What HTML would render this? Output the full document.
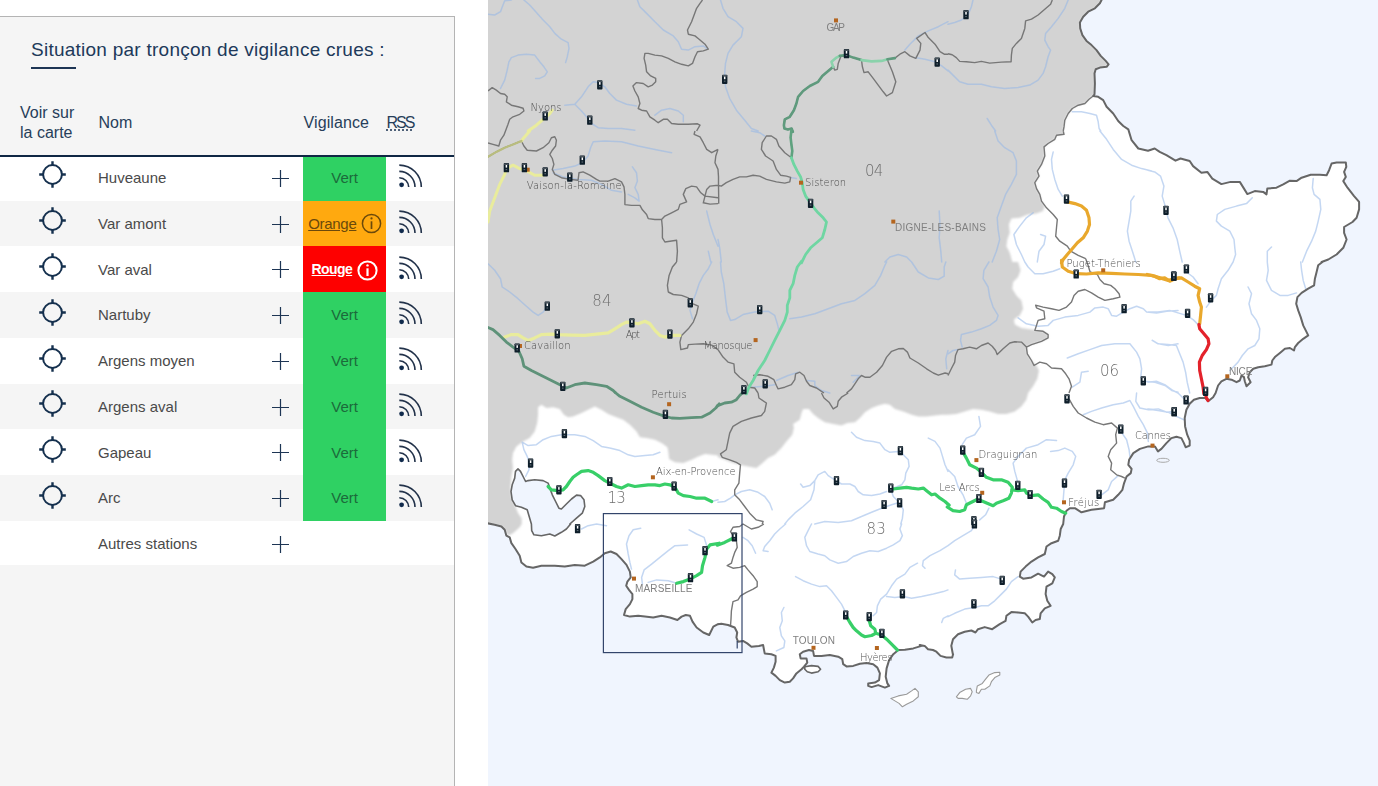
<!DOCTYPE html>
<html lang="fr">
<head>
<meta charset="utf-8">
<title>Vigicrues - Situation par tronçon</title>
<style>
html,body{margin:0;padding:0;background:#fff;}
body{width:1378px;height:786px;overflow:hidden;position:relative;font-family:"Liberation Sans",sans-serif;}
#panel{position:absolute;left:0;top:16px;width:454px;height:770px;background:#f5f5f5;border-top:1px solid #b4b4b4;border-right:1px solid #b4b4b4;box-sizing:content-box;}
#title{position:absolute;left:31px;top:22px;font-size:19px;line-height:22px;letter-spacing:.25px;color:#20395a;white-space:nowrap;margin:0;font-weight:normal;}
#tbar{position:absolute;left:31px;top:50px;width:45px;height:2px;background:#1d3554;}
.th{position:absolute;font-size:16px;line-height:20px;color:#273e5a;white-space:nowrap;}
#hline{position:absolute;left:0;top:138px;width:454px;height:2px;background:#0f2744;z-index:3;}
.row{position:absolute;left:0;width:454px;height:45.76px;}
.row.w{background:#fff;}
.nm{position:absolute;left:98px;top:14.15px;font-size:15px;line-height:17px;color:#4a4a4a;white-space:nowrap;}
.tg{position:absolute;left:38.5px;top:6.65px;width:27px;height:27px;}
.pl{position:absolute;left:272px;top:14.95px;width:17px;height:17px;}
.rs{position:absolute;left:396px;top:8.15px;width:28px;height:27px;}
.vg{position:absolute;left:303px;top:0;width:83px;height:100%;font-size:15px;line-height:17px;white-space:nowrap;}
.vg span.t{position:absolute;top:14.15px;}
.vert{background:#2fd163;color:#1c6a3b;}
.oran{background:#ffa90f;color:#6b490b;}
.roug{background:#fe0000;color:#fff;}
.inf{position:absolute;width:21px;height:21px;}
#map{position:absolute;left:488px;top:0;width:890px;height:786px;}
</style>
</head>
<body>
<div id="panel">
  <h2 id="title">Situation par tronçon de vigilance crues :</h2>
  <div id="tbar"></div>
  <div class="th" style="left:20px;top:86px;">Voir sur<br>la carte</div>
  <div class="th" style="left:98.5px;top:96.2px;">Nom</div>
  <div class="th" style="left:303.5px;top:96.2px;letter-spacing:.1px;">Vigilance</div>
  <div class="th" style="left:386.5px;top:96.2px;letter-spacing:-2px;text-decoration:underline dotted;text-underline-offset:2px;">RSS</div>
  <div id="hline"></div>
  <div class="row w" style="top:137.85px;height:45.76px"><svg class="tg" viewBox="0 0 27 27"><circle cx="13.5" cy="13.5" r="9.4" fill="none" stroke="#15304e" stroke-width="2"/><path d="M13.5 0.2V4.6M13.5 22.4V26.8M0.2 13.5H4.6M22.4 13.5H26.8" stroke="#15304e" stroke-width="2.4" fill="none"/></svg><span class="nm">Huveaune</span><svg class="pl" viewBox="0 0 17 17"><path d="M8.5 0V17M0 8.5H17" stroke="#1d3554" stroke-width="1.2" fill="none"/></svg><div class="vg vert"><span class="t" style="left:28.3px">Vert</span></div><svg class="rs" viewBox="0 0 28 27"><circle cx="5.6" cy="21.8" r="2.4" fill="#102a4c"/><path d="M3.3 14.7A9.4 9.4 0 0 1 12.7 24.1M3.3 8.4A15.7 15.7 0 0 1 19 24.1M3.3 2.1A22 22 0 0 1 25.3 24.1" fill="none" stroke="#22324a" stroke-width="1.6"/></svg></div>
  <div class="row" style="top:183.61px;height:45.76px"><svg class="tg" viewBox="0 0 27 27"><circle cx="13.5" cy="13.5" r="9.4" fill="none" stroke="#15304e" stroke-width="2"/><path d="M13.5 0.2V4.6M13.5 22.4V26.8M0.2 13.5H4.6M22.4 13.5H26.8" stroke="#15304e" stroke-width="2.4" fill="none"/></svg><span class="nm">Var amont</span><svg class="pl" viewBox="0 0 17 17"><path d="M8.5 0V17M0 8.5H17" stroke="#1d3554" stroke-width="1.2" fill="none"/></svg><div class="vg oran"><span class="t" style="left:5.2px;text-decoration:underline;letter-spacing:-.3px">Orange</span><svg class="inf" style="left:57.5px;top:12.85px" viewBox="0 0 21 21"><circle cx="10.5" cy="10.5" r="9.1" fill="none" stroke="#6b490b" stroke-width="1.5"/><path d="M10.5 8.3V16" stroke="#6b490b" stroke-width="1.7" fill="none"/><circle cx="10.5" cy="5.4" r="1.125" fill="#6b490b"/></svg></div><svg class="rs" viewBox="0 0 28 27"><circle cx="5.6" cy="21.8" r="2.4" fill="#102a4c"/><path d="M3.3 14.7A9.4 9.4 0 0 1 12.7 24.1M3.3 8.4A15.7 15.7 0 0 1 19 24.1M3.3 2.1A22 22 0 0 1 25.3 24.1" fill="none" stroke="#22324a" stroke-width="1.6"/></svg></div>
  <div class="row w" style="top:229.37px;height:45.76px"><svg class="tg" viewBox="0 0 27 27"><circle cx="13.5" cy="13.5" r="9.4" fill="none" stroke="#15304e" stroke-width="2"/><path d="M13.5 0.2V4.6M13.5 22.4V26.8M0.2 13.5H4.6M22.4 13.5H26.8" stroke="#15304e" stroke-width="2.4" fill="none"/></svg><span class="nm">Var aval</span><svg class="pl" viewBox="0 0 17 17"><path d="M8.5 0V17M0 8.5H17" stroke="#1d3554" stroke-width="1.2" fill="none"/></svg><div class="vg roug"><span class="t" style="left:8.6px;font-weight:bold;font-size:14px;letter-spacing:-.6px;text-decoration:underline">Rouge</span><svg class="inf" style="left:53.5px;top:13.35px" viewBox="0 0 21 21"><circle cx="10.5" cy="10.5" r="9.1" fill="none" stroke="#fff" stroke-width="2"/><path d="M10.5 8.3V16" stroke="#fff" stroke-width="2.2" fill="none"/><circle cx="10.5" cy="5.4" r="1.2" fill="#fff"/></svg></div><svg class="rs" viewBox="0 0 28 27"><circle cx="5.6" cy="21.8" r="2.4" fill="#102a4c"/><path d="M3.3 14.7A9.4 9.4 0 0 1 12.7 24.1M3.3 8.4A15.7 15.7 0 0 1 19 24.1M3.3 2.1A22 22 0 0 1 25.3 24.1" fill="none" stroke="#22324a" stroke-width="1.6"/></svg></div>
  <div class="row" style="top:275.13px;height:45.76px"><svg class="tg" viewBox="0 0 27 27"><circle cx="13.5" cy="13.5" r="9.4" fill="none" stroke="#15304e" stroke-width="2"/><path d="M13.5 0.2V4.6M13.5 22.4V26.8M0.2 13.5H4.6M22.4 13.5H26.8" stroke="#15304e" stroke-width="2.4" fill="none"/></svg><span class="nm">Nartuby</span><svg class="pl" viewBox="0 0 17 17"><path d="M8.5 0V17M0 8.5H17" stroke="#1d3554" stroke-width="1.2" fill="none"/></svg><div class="vg vert"><span class="t" style="left:28.3px">Vert</span></div><svg class="rs" viewBox="0 0 28 27"><circle cx="5.6" cy="21.8" r="2.4" fill="#102a4c"/><path d="M3.3 14.7A9.4 9.4 0 0 1 12.7 24.1M3.3 8.4A15.7 15.7 0 0 1 19 24.1M3.3 2.1A22 22 0 0 1 25.3 24.1" fill="none" stroke="#22324a" stroke-width="1.6"/></svg></div>
  <div class="row w" style="top:320.89px;height:45.76px"><svg class="tg" viewBox="0 0 27 27"><circle cx="13.5" cy="13.5" r="9.4" fill="none" stroke="#15304e" stroke-width="2"/><path d="M13.5 0.2V4.6M13.5 22.4V26.8M0.2 13.5H4.6M22.4 13.5H26.8" stroke="#15304e" stroke-width="2.4" fill="none"/></svg><span class="nm">Argens moyen</span><svg class="pl" viewBox="0 0 17 17"><path d="M8.5 0V17M0 8.5H17" stroke="#1d3554" stroke-width="1.2" fill="none"/></svg><div class="vg vert"><span class="t" style="left:28.3px">Vert</span></div><svg class="rs" viewBox="0 0 28 27"><circle cx="5.6" cy="21.8" r="2.4" fill="#102a4c"/><path d="M3.3 14.7A9.4 9.4 0 0 1 12.7 24.1M3.3 8.4A15.7 15.7 0 0 1 19 24.1M3.3 2.1A22 22 0 0 1 25.3 24.1" fill="none" stroke="#22324a" stroke-width="1.6"/></svg></div>
  <div class="row" style="top:366.65px;height:45.76px"><svg class="tg" viewBox="0 0 27 27"><circle cx="13.5" cy="13.5" r="9.4" fill="none" stroke="#15304e" stroke-width="2"/><path d="M13.5 0.2V4.6M13.5 22.4V26.8M0.2 13.5H4.6M22.4 13.5H26.8" stroke="#15304e" stroke-width="2.4" fill="none"/></svg><span class="nm">Argens aval</span><svg class="pl" viewBox="0 0 17 17"><path d="M8.5 0V17M0 8.5H17" stroke="#1d3554" stroke-width="1.2" fill="none"/></svg><div class="vg vert"><span class="t" style="left:28.3px">Vert</span></div><svg class="rs" viewBox="0 0 28 27"><circle cx="5.6" cy="21.8" r="2.4" fill="#102a4c"/><path d="M3.3 14.7A9.4 9.4 0 0 1 12.7 24.1M3.3 8.4A15.7 15.7 0 0 1 19 24.1M3.3 2.1A22 22 0 0 1 25.3 24.1" fill="none" stroke="#22324a" stroke-width="1.6"/></svg></div>
  <div class="row w" style="top:412.41px;height:45.76px"><svg class="tg" viewBox="0 0 27 27"><circle cx="13.5" cy="13.5" r="9.4" fill="none" stroke="#15304e" stroke-width="2"/><path d="M13.5 0.2V4.6M13.5 22.4V26.8M0.2 13.5H4.6M22.4 13.5H26.8" stroke="#15304e" stroke-width="2.4" fill="none"/></svg><span class="nm">Gapeau</span><svg class="pl" viewBox="0 0 17 17"><path d="M8.5 0V17M0 8.5H17" stroke="#1d3554" stroke-width="1.2" fill="none"/></svg><div class="vg vert"><span class="t" style="left:28.3px">Vert</span></div><svg class="rs" viewBox="0 0 28 27"><circle cx="5.6" cy="21.8" r="2.4" fill="#102a4c"/><path d="M3.3 14.7A9.4 9.4 0 0 1 12.7 24.1M3.3 8.4A15.7 15.7 0 0 1 19 24.1M3.3 2.1A22 22 0 0 1 25.3 24.1" fill="none" stroke="#22324a" stroke-width="1.6"/></svg></div>
  <div class="row" style="top:458.17px;height:45.76px"><svg class="tg" viewBox="0 0 27 27"><circle cx="13.5" cy="13.5" r="9.4" fill="none" stroke="#15304e" stroke-width="2"/><path d="M13.5 0.2V4.6M13.5 22.4V26.8M0.2 13.5H4.6M22.4 13.5H26.8" stroke="#15304e" stroke-width="2.4" fill="none"/></svg><span class="nm">Arc</span><svg class="pl" viewBox="0 0 17 17"><path d="M8.5 0V17M0 8.5H17" stroke="#1d3554" stroke-width="1.2" fill="none"/></svg><div class="vg vert"><span class="t" style="left:28.3px">Vert</span></div><svg class="rs" viewBox="0 0 28 27"><circle cx="5.6" cy="21.8" r="2.4" fill="#102a4c"/><path d="M3.3 14.7A9.4 9.4 0 0 1 12.7 24.1M3.3 8.4A15.7 15.7 0 0 1 19 24.1M3.3 2.1A22 22 0 0 1 25.3 24.1" fill="none" stroke="#22324a" stroke-width="1.6"/></svg></div>
  <div class="row w" style="top:503.93px;height:44.5px"><span class="nm">Autres stations</span><svg class="pl" viewBox="0 0 17 17"><path d="M8.5 0V17M0 8.5H17" stroke="#1d3554" stroke-width="1.2" fill="none"/></svg></div>
</div>
<svg id="map" viewBox="488 0 890 786">
<defs><clipPath id="landclip"><path d="M480.0,-10.0 1102.4,-1.7 1099.9,3.3 1094.9,8.3 1088.2,11.7 1083.2,16.7 1079.9,22.5 1080.2,28.4 1082.4,35.1 1086.5,40.9 1091.5,45.1 1096.5,50.1 1100.7,55.9 1105.7,60.9 1108.6,64.3 1106.6,66.8 1099.9,67.6 1095.7,69.3 1094.5,73.4 1094.9,83.5 1094.5,94.3 1093.2,96.0 1098.2,96.8 1103.2,100.1 1106.6,106.8 1113.2,113.5 1118.2,121.0 1123.3,126.0 1128.3,129.4 1131.6,140.2 1138.3,148.5 1148.0,150.7 1154.7,148.5 1159.7,151.9 1166.4,155.2 1175.5,160.7 1180.5,158.5 1189.7,161.0 1193.1,166.1 1201.4,172.7 1207.3,171.9 1212.3,178.6 1221.4,184.1 1230.6,181.9 1239.8,181.9 1244.0,188.6 1247.3,194.1 1254.8,191.1 1263.2,191.9 1266.5,194.4 1267.3,188.6 1276.5,187.7 1283.2,184.4 1289.9,180.7 1296.5,181.1 1301.6,177.7 1310.7,174.7 1319.9,174.7 1326.6,175.2 1329.1,170.2 1331.6,163.5 1336.6,162.4 1345.8,162.4 1346.3,166.9 1344.1,171.9 1345.8,176.9 1343.3,181.1 1347.5,187.7 1354.1,196.1 1359.1,201.9 1359.1,209.4 1356.6,217.8 1352.5,222.0 1344.1,227.0 1344.1,232.8 1346.6,239.5 1343.3,247.8 1336.6,254.5 1328.3,259.5 1321.6,262.0 1322.4,262.0 1318.2,265.3 1316.6,272.0 1314.9,278.7 1314.1,285.4 1308.2,288.7 1301.6,292.9 1297.4,297.1 1296.2,303.7 1298.2,310.4 1300.7,317.1 1303.2,325.4 1306.6,332.1 1308.2,335.4 1303.2,338.8 1298.2,343.0 1294.9,347.1 1294.0,350.5 1289.9,348.0 1284.9,348.8 1279.9,353.0 1274.9,357.1 1272.3,360.5 1271.5,364.6 1264.8,366.3 1258.2,367.2 1253.2,368.8 1249.8,372.2 1248.1,377.2 1250.6,382.2 1246.5,386.3 1244.8,381.3 1244.0,377.2 1241.5,375.5 1239.8,380.5 1236.5,382.2 1231.5,379.7 1226.4,378.8 1221.4,381.3 1218.1,385.5 1215.6,393.0 1215.6,393.0 1213.1,397.2 1208.1,401.3 1205.6,398.0 1199.7,398.0 1193.9,399.7 1189.7,403.8 1186.4,409.7 1184.7,418.0 1185.1,426.4 1187.2,434.7 1189.7,440.6 1189.7,445.6 1185.6,447.2 1183.9,443.1 1181.4,438.1 1176.4,436.7 1171.4,438.1 1166.4,443.1 1161.4,448.9 1158.0,451.4 1155.0,446.4 1148.3,446.4 1139.9,448.9 1133.3,453.1 1129.1,459.8 1128.3,464.8 1131.6,468.9 1130.8,473.1 1126.6,476.5 1124.1,483.1 1122.4,489.8 1118.2,494.8 1113.2,499.8 1104.9,502.3 1104.1,508.2 1098.2,509.0 1091.5,509.8 1081.5,512.3 1074.9,508.2 1069.8,508.2 1066.5,510.7 1064.0,516.5 1063.2,524.0 1063.2,524.0 1060.7,529.0 1059.8,535.7 1058.2,540.7 1051.5,543.2 1046.5,546.5 1044.8,554.0 1038.1,557.4 1031.5,561.6 1025.6,566.6 1020.6,571.6 1019.8,576.6 1023.1,578.7 1031.5,577.4 1038.1,573.7 1044.0,576.6 1048.1,571.6 1052.3,574.1 1054.8,577.4 1052.3,583.3 1046.5,586.6 1045.6,594.1 1047.3,600.8 1050.6,605.8 1044.8,608.3 1040.6,613.3 1039.8,619.1 1035.6,620.0 1032.3,622.5 1028.1,616.6 1024.8,613.3 1018.1,612.5 1011.4,612.1 1006.4,615.8 1005.6,620.8 999.7,624.1 992.2,629.2 984.7,627.1 978.0,629.2 975.5,632.5 971.4,630.5 964.7,631.7 958.0,634.2 953.0,639.2 951.3,645.8 953.0,655.0 953.1,654.2 952.2,657.5 946.4,657.5 940.5,655.9 936.4,651.7 933.0,650.0 928.0,649.2 924.7,645.9 919.7,645.0 921.6,645.9 913.3,648.4 904.9,649.7 898.3,650.0 893.3,654.2 889.1,660.1 886.6,668.4 885.7,676.7 887.4,683.4 889.1,685.9 884.9,687.6 878.2,685.1 871.6,687.1 868.2,685.9 868.2,683.4 874.9,682.6 879.1,680.1 879.9,673.4 877.4,667.6 873.2,664.2 866.5,663.1 859.9,663.7 853.2,665.9 846.5,666.4 843.2,664.2 842.3,659.2 838.2,656.7 829.8,655.0 821.5,655.9 814.0,655.9 813.1,650.9 809.0,650.0 803.1,651.7 799.8,654.2 800.6,658.4 806.5,658.4 807.3,662.6 804.0,666.7 801.5,669.2 796.4,673.4 793.1,678.4 789.8,681.7 784.8,682.6 779.8,680.1 775.6,675.9 771.4,672.6 773.9,667.6 775.6,661.7 775.6,655.9 771.4,654.2 764.7,653.4 763.9,649.2 763.1,645.0 758.9,645.9 751.4,646.7 747.2,643.4 743.0,640.9 738.0,641.7 736.4,637.5 737.2,632.5 734.7,627.5 728.0,625.0 721.3,623.8 718.0,624.2 718.0,624.1 713.3,626.6 709.2,635.0 703.3,632.5 696.6,627.5 692.5,621.6 690.0,615.8 685.8,615.0 681.6,616.6 677.4,620.0 669.9,617.5 661.6,615.8 653.2,617.5 644.9,616.6 638.2,615.8 629.9,616.6 624.0,615.0 625.7,609.1 629.9,604.1 632.4,599.1 632.4,594.1 629.0,589.9 626.2,585.8 627.4,581.6 630.7,577.4 629.9,571.6 626.5,564.9 621.5,559.1 616.5,554.0 610.7,551.5 604.8,553.2 599.8,557.4 593.2,561.6 584.8,565.7 574.8,564.9 564.8,566.6 554.8,565.7 541.4,565.7 533.1,567.7 526.4,566.6 521.4,562.4 519.7,555.7 515.5,549.0 511.4,543.2 509.7,537.4 506.4,535.7 504.7,529.8 501.4,526.5 494.7,524.8 484.7,522.7 480.0,524.0Z"/></clipPath><filter id="bl" x="-5%" y="-5%" width="110%" height="110%"><feGaussianBlur stdDeviation="1"/></filter><g id="st"><rect x="-2.7" y="-4.6" width="5.4" height="9.2" rx=".9" fill="#0e1e2a"/><rect x="-2.2" y="-4.3" width="4.4" height="1.6" fill="#4a545c"/><rect x="-.75" y="-2.7" width="1.5" height="2.6" fill="#fff"/><rect x="-.8" y="1.3" width="1.6" height="1.1" fill="#5d6a74"/></g><rect id="ct" x="-2" y="-2" width="4" height="4" fill="#b4651f"/></defs>
<rect x="488" y="0" width="890" height="786" fill="#f0f5fe"/>
<path d="M480.0,-10.0 1102.4,-1.7 1099.9,3.3 1094.9,8.3 1088.2,11.7 1083.2,16.7 1079.9,22.5 1080.2,28.4 1082.4,35.1 1086.5,40.9 1091.5,45.1 1096.5,50.1 1100.7,55.9 1105.7,60.9 1108.6,64.3 1106.6,66.8 1099.9,67.6 1095.7,69.3 1094.5,73.4 1094.9,83.5 1094.5,94.3 1093.2,96.0 1098.2,96.8 1103.2,100.1 1106.6,106.8 1113.2,113.5 1118.2,121.0 1123.3,126.0 1128.3,129.4 1131.6,140.2 1138.3,148.5 1148.0,150.7 1154.7,148.5 1159.7,151.9 1166.4,155.2 1175.5,160.7 1180.5,158.5 1189.7,161.0 1193.1,166.1 1201.4,172.7 1207.3,171.9 1212.3,178.6 1221.4,184.1 1230.6,181.9 1239.8,181.9 1244.0,188.6 1247.3,194.1 1254.8,191.1 1263.2,191.9 1266.5,194.4 1267.3,188.6 1276.5,187.7 1283.2,184.4 1289.9,180.7 1296.5,181.1 1301.6,177.7 1310.7,174.7 1319.9,174.7 1326.6,175.2 1329.1,170.2 1331.6,163.5 1336.6,162.4 1345.8,162.4 1346.3,166.9 1344.1,171.9 1345.8,176.9 1343.3,181.1 1347.5,187.7 1354.1,196.1 1359.1,201.9 1359.1,209.4 1356.6,217.8 1352.5,222.0 1344.1,227.0 1344.1,232.8 1346.6,239.5 1343.3,247.8 1336.6,254.5 1328.3,259.5 1321.6,262.0 1322.4,262.0 1318.2,265.3 1316.6,272.0 1314.9,278.7 1314.1,285.4 1308.2,288.7 1301.6,292.9 1297.4,297.1 1296.2,303.7 1298.2,310.4 1300.7,317.1 1303.2,325.4 1306.6,332.1 1308.2,335.4 1303.2,338.8 1298.2,343.0 1294.9,347.1 1294.0,350.5 1289.9,348.0 1284.9,348.8 1279.9,353.0 1274.9,357.1 1272.3,360.5 1271.5,364.6 1264.8,366.3 1258.2,367.2 1253.2,368.8 1249.8,372.2 1248.1,377.2 1250.6,382.2 1246.5,386.3 1244.8,381.3 1244.0,377.2 1241.5,375.5 1239.8,380.5 1236.5,382.2 1231.5,379.7 1226.4,378.8 1221.4,381.3 1218.1,385.5 1215.6,393.0 1215.6,393.0 1213.1,397.2 1208.1,401.3 1205.6,398.0 1199.7,398.0 1193.9,399.7 1189.7,403.8 1186.4,409.7 1184.7,418.0 1185.1,426.4 1187.2,434.7 1189.7,440.6 1189.7,445.6 1185.6,447.2 1183.9,443.1 1181.4,438.1 1176.4,436.7 1171.4,438.1 1166.4,443.1 1161.4,448.9 1158.0,451.4 1155.0,446.4 1148.3,446.4 1139.9,448.9 1133.3,453.1 1129.1,459.8 1128.3,464.8 1131.6,468.9 1130.8,473.1 1126.6,476.5 1124.1,483.1 1122.4,489.8 1118.2,494.8 1113.2,499.8 1104.9,502.3 1104.1,508.2 1098.2,509.0 1091.5,509.8 1081.5,512.3 1074.9,508.2 1069.8,508.2 1066.5,510.7 1064.0,516.5 1063.2,524.0 1063.2,524.0 1060.7,529.0 1059.8,535.7 1058.2,540.7 1051.5,543.2 1046.5,546.5 1044.8,554.0 1038.1,557.4 1031.5,561.6 1025.6,566.6 1020.6,571.6 1019.8,576.6 1023.1,578.7 1031.5,577.4 1038.1,573.7 1044.0,576.6 1048.1,571.6 1052.3,574.1 1054.8,577.4 1052.3,583.3 1046.5,586.6 1045.6,594.1 1047.3,600.8 1050.6,605.8 1044.8,608.3 1040.6,613.3 1039.8,619.1 1035.6,620.0 1032.3,622.5 1028.1,616.6 1024.8,613.3 1018.1,612.5 1011.4,612.1 1006.4,615.8 1005.6,620.8 999.7,624.1 992.2,629.2 984.7,627.1 978.0,629.2 975.5,632.5 971.4,630.5 964.7,631.7 958.0,634.2 953.0,639.2 951.3,645.8 953.0,655.0 953.1,654.2 952.2,657.5 946.4,657.5 940.5,655.9 936.4,651.7 933.0,650.0 928.0,649.2 924.7,645.9 919.7,645.0 921.6,645.9 913.3,648.4 904.9,649.7 898.3,650.0 893.3,654.2 889.1,660.1 886.6,668.4 885.7,676.7 887.4,683.4 889.1,685.9 884.9,687.6 878.2,685.1 871.6,687.1 868.2,685.9 868.2,683.4 874.9,682.6 879.1,680.1 879.9,673.4 877.4,667.6 873.2,664.2 866.5,663.1 859.9,663.7 853.2,665.9 846.5,666.4 843.2,664.2 842.3,659.2 838.2,656.7 829.8,655.0 821.5,655.9 814.0,655.9 813.1,650.9 809.0,650.0 803.1,651.7 799.8,654.2 800.6,658.4 806.5,658.4 807.3,662.6 804.0,666.7 801.5,669.2 796.4,673.4 793.1,678.4 789.8,681.7 784.8,682.6 779.8,680.1 775.6,675.9 771.4,672.6 773.9,667.6 775.6,661.7 775.6,655.9 771.4,654.2 764.7,653.4 763.9,649.2 763.1,645.0 758.9,645.9 751.4,646.7 747.2,643.4 743.0,640.9 738.0,641.7 736.4,637.5 737.2,632.5 734.7,627.5 728.0,625.0 721.3,623.8 718.0,624.2 718.0,624.1 713.3,626.6 709.2,635.0 703.3,632.5 696.6,627.5 692.5,621.6 690.0,615.8 685.8,615.0 681.6,616.6 677.4,620.0 669.9,617.5 661.6,615.8 653.2,617.5 644.9,616.6 638.2,615.8 629.9,616.6 624.0,615.0 625.7,609.1 629.9,604.1 632.4,599.1 632.4,594.1 629.0,589.9 626.2,585.8 627.4,581.6 630.7,577.4 629.9,571.6 626.5,564.9 621.5,559.1 616.5,554.0 610.7,551.5 604.8,553.2 599.8,557.4 593.2,561.6 584.8,565.7 574.8,564.9 564.8,566.6 554.8,565.7 541.4,565.7 533.1,567.7 526.4,566.6 521.4,562.4 519.7,555.7 515.5,549.0 511.4,543.2 509.7,537.4 506.4,535.7 504.7,529.8 501.4,526.5 494.7,524.8 484.7,522.7 480.0,524.0Z" fill="#fff"/>
<g clip-path="url(#landclip)"><path d="M470.0,-20.0 1102.4,-1.7 1099.9,3.3 1094.9,8.3 1088.2,11.7 1083.2,16.7 1079.9,22.5 1080.2,28.4 1082.4,35.1 1086.5,40.9 1091.5,45.1 1096.5,50.1 1100.7,55.9 1105.7,60.9 1108.6,64.3 1106.6,66.8 1099.9,67.6 1095.7,69.3 1094.5,73.4 1094.9,83.5 1094.5,94.3 1093.2,96.0 1089.0,99.3 1084.9,103.5 1078.2,105.2 1072.3,108.5 1068.2,113.5 1064.8,120.2 1064.0,126.9 1063.2,131.0 1063.2,131.0 1064.0,134.3 1056.5,135.2 1054.8,139.3 1048.1,143.5 1044.0,146.9 1044.8,156.0 1041.5,164.4 1037.3,171.1 1039.0,176.1 1034.8,182.7 1036.5,188.6 1039.8,194.4 1041.5,201.1 1044.8,206.1 1043.1,211.1 1036.5,213.6 1028.1,214.5 1019.8,217.8 1011.4,218.6 1008.9,224.5 1009.8,232.8 1007.3,239.5 1006.4,246.2 1009.8,252.8 1012.3,262.0 1018.1,262.0 1020.6,270.3 1018.1,277.0 1013.1,282.0 1012.3,288.7 1016.4,295.4 1021.4,300.4 1023.1,308.7 1019.8,315.4 1013.9,319.6 1014.8,324.6 1021.4,327.9 1031.5,329.6 1043.1,331.3 1048.1,334.6 1048.1,337.9 1041.5,341.3 1031.5,344.6 1026.4,347.1 1027.3,353.8 1031.5,360.5 1036.5,365.5 1039.0,370.5 1037.3,378.8 1033.1,386.3 1028.1,393.0 1028.1,393.0 1026.4,399.7 1021.4,406.4 1014.8,411.4 1006.4,413.9 998.1,413.9 989.7,411.4 981.4,409.7 973.0,408.9 964.7,411.4 956.3,413.9 948.0,414.7 948.0,414.7 941.7,414.7 935.0,415.5 926.6,416.4 918.3,416.4 911.6,414.7 903.3,411.4 894.9,408.9 889.9,404.7 884.9,403.8 878.2,405.5 871.6,408.0 864.9,412.2 859.9,418.0 854.9,422.2 847.4,423.0 841.5,425.5 833.2,423.9 824.8,422.2 818.1,418.0 813.1,413.9 809.0,408.9 803.1,408.9 801.5,413.0 799.8,419.7 793.1,423.9 793.9,428.1 792.3,434.7 786.4,441.4 781.4,448.1 774.7,454.8 768.1,458.1 761.4,463.9 756.4,468.1 748.0,466.4 739.7,464.8 733.0,463.1 724.7,459.8 718.0,457.3 718.0,455.6 711.7,454.8 705.0,453.9 698.3,456.4 691.6,459.8 683.3,463.1 674.9,462.3 669.1,458.9 668.3,451.4 667.4,447.2 661.6,443.1 654.9,439.7 646.6,438.1 639.9,437.2 636.5,431.4 629.9,424.7 623.2,419.7 616.5,417.2 608.2,413.9 601.5,409.7 594.8,406.4 588.1,409.7 581.5,413.0 573.1,416.4 568.1,417.2 563.9,414.7 559.8,408.9 553.1,407.2 546.4,408.0 541.4,404.7 538.1,407.2 538.1,414.7 537.2,423.0 534.7,431.4 529.7,438.1 523.1,441.4 516.4,446.4 513.0,453.1 512.2,459.8 513.0,468.1 511.4,476.5 510.5,488.1 511.4,496.5 514.7,504.8 518.0,513.0 521.7,518.2 521.7,524.0 521.7,524.0 519.7,527.3 513.0,533.2 508.0,535.7 505.5,531.5 503.0,527.3 494.7,524.8 483.0,523.2 470.0,524.0Z" fill="#d3d3d3" filter="url(#bl)"/></g>
<path d="M518.0,468.9 515.5,471.4 514.7,478.1 512.2,484.8 511.0,491.5 512.2,499.8 515.5,505.7 521.4,507.3 527.2,509.8 529.7,518.2 531.4,524.0 531.4,524.0 531.7,530.7 533.9,534.8 541.4,535.7 549.8,534.0 554.8,536.0 561.4,532.3 566.4,529.0 570.6,524.0 569.8,524.0 576.5,518.2 582.3,513.2 584.8,506.5 584.0,499.8 580.6,495.6 576.5,495.1 571.5,499.0 566.4,504.0 561.4,509.0 558.9,508.2 555.6,501.5 552.3,494.8 549.8,488.1 548.1,483.1 543.1,480.6 534.7,479.8 528.1,480.6 525.6,481.5 523.1,476.5 520.5,471.4 518.0,468.9Z" fill="#f0f5fe" stroke="#666" stroke-width="1.6" stroke-linejoin="round"/>
<path d="M488.0,14.2 494.7,15.0 500.5,11.7 503.0,5.0 504.7,0.8 511.4,0.0 M523.9,0.0 529.7,5.0 536.4,12.5 543.1,20.0 549.8,26.7 554.8,33.4 561.4,39.2 568.1,42.6 569.0,48.4 567.3,56.7 565.6,62.6 M500.5,88.5 504.7,80.1 507.2,70.1 508.9,61.8 511.4,57.6 518.0,55.1 526.4,54.2 534.7,55.1 539.7,61.8 543.9,66.8 547.3,71.8 544.7,75.9 539.7,78.4 535.6,78.4 M637.4,0.0 639.9,6.7 646.6,13.4 654.9,21.7 663.3,30.0 673.3,35.9 678.3,41.7 681.6,49.2 688.3,50.1 695.0,46.7 703.3,45.9 706.7,48.4 M564.8,105.2 574.8,104.3 581.5,96.8 588.1,86.8 593.2,81.8 598.2,82.6 604.8,86.8 609.8,93.5 616.5,100.1 626.5,104.3 636.5,106.0 M574.8,104.3 581.5,111.0 586.5,116.8 591.5,123.5 598.2,127.7 608.2,128.5 621.5,128.5 634.9,130.2 M654.9,115.2 661.6,110.2 669.9,108.5 678.3,111.0 683.3,115.2 683.3,121.8 M720.5,0.0 723.0,8.3 728.0,16.7 736.4,21.7 743.0,28.4 741.4,36.7 733.0,45.1 728.0,53.4 725.5,63.4 724.7,73.4 725.5,86.8 729.7,98.5 736.4,110.2 744.7,120.2 751.4,128.5 758.1,131.0 M948.0,21.7 938.3,26.7 928.3,30.9 918.3,35.9 909.9,44.2 904.9,50.1 M915.0,57.6 925.0,59.3 935.0,61.8 941.7,65.9 948.0,70.9 M973.0,0.0 971.4,6.7 968.0,15.0 961.4,20.0 954.7,22.5 948.0,24.2 M1068.2,0.0 1064.8,8.3 1058.2,18.4 1051.5,26.7 1045.6,33.4 1044.8,40.1 1048.1,46.7 1050.6,50.1 1048.1,56.7 1045.6,66.8 1043.1,73.4 1038.1,80.1 1029.8,85.1 1018.1,87.6 1004.7,88.5 991.4,86.8 981.4,84.3 968.0,84.3 959.7,81.8 953.0,75.1 948.0,70.1 M987.2,118.5 991.4,125.2 995.6,131.0 M1072.3,111.8 1081.5,111.8 1089.9,113.5 1096.5,115.2 1098.2,121.8 1099.1,128.5 1100.7,131.0 M552.3,170.2 563.1,168.6 574.8,166.1 582.3,162.7 588.1,156.0 590.6,147.7 593.2,141.8 604.8,141.0 621.5,141.8 638.2,146.0 654.9,149.4 671.6,152.7 M553.1,172.7 563.1,176.9 578.1,179.4 591.5,180.2 601.5,184.4 611.5,190.3 621.5,191.9 M632.4,166.9 636.5,172.7 637.4,181.1 634.9,187.7 638.2,194.4 639.1,201.1 634.9,197.8 628.2,194.4 M706.7,211.1 710.0,224.5 713.3,234.5 718.0,246.2 M708.3,251.2 710.8,262.0 M751.4,131.0 759.7,132.7 764.7,136.0 M790.6,177.4 796.4,178.6 M939.2,211.1 940.0,224.5 939.2,237.8 940.8,251.2 941.7,262.0 M884.9,262.0 889.9,257.0 898.3,254.5 906.6,257.0 911.6,262.0 M718.0,239.5 719.7,247.8 721.3,262.0 M994.7,131.0 998.1,141.0 1004.7,147.7 1013.1,152.7 1016.4,161.0 1016.4,174.4 1011.4,184.4 1005.6,194.4 1001.4,206.1 997.2,217.8 998.1,229.5 999.7,239.5 996.4,251.2 992.2,262.0 M1053.2,151.9 1051.5,159.4 1052.3,169.4 1054.8,179.4 1058.2,189.4 1062.3,196.1 M1099.9,131.0 1106.6,139.3 1113.2,149.4 1121.6,159.4 1131.6,165.2 1141.6,168.6 1151.6,171.1 M1134.1,196.1 1130.8,201.1 1130.8,211.1 1129.1,221.1 1127.4,231.1 1129.1,241.2 1132.4,251.2 1135.8,262.0 M1033.1,212.8 1026.4,217.8 1019.8,226.1 1013.9,234.5 1016.4,244.5 1021.4,254.5 1024.8,262.0 M1040.6,234.5 1045.6,236.2 1044.0,244.5 1039.0,251.2 1037.3,262.0 M1148.0,170.2 1154.7,171.9 1160.5,176.1 1163.9,186.1 1162.2,196.1 1164.7,204.4 1168.0,217.8 1173.0,227.8 1177.2,239.5 1179.7,251.2 1182.2,262.0 M1252.3,197.8 1246.5,203.6 1236.5,206.1 1224.8,209.4 1217.3,214.5 1216.4,221.1 1221.4,226.1 1229.8,231.1 1234.0,239.5 1234.8,247.8 1235.6,254.5 1233.1,262.0 M1313.2,178.6 1312.4,187.7 1314.1,194.4 1319.9,199.4 1320.8,209.4 1318.2,221.1 1315.7,231.1 1311.6,241.2 1306.6,251.2 1302.4,262.0 M1271.5,247.0 1267.3,251.2 1267.3,262.0 M488.0,263.7 494.7,270.3 500.5,278.7 502.2,287.0 509.7,292.0 518.0,298.7 526.4,306.2 533.1,312.1 538.1,315.4 543.1,312.1 545.6,308.7 M711.7,262.0 708.3,268.7 703.3,275.4 699.1,283.7 695.8,293.7 692.5,302.1 690.0,310.4 692.5,318.7 M720.5,262.0 721.3,272.0 723.8,283.7 725.5,298.7 727.2,312.1 730.5,320.4 734.7,319.6 743.0,314.6 754.7,312.1 768.1,311.2 774.7,315.4 777.3,323.8 778.9,330.4 M789.8,318.7 801.5,317.1 814.8,313.7 828.2,308.7 841.5,303.7 854.9,300.4 864.9,293.7 874.9,285.4 880.7,275.4 884.9,265.3 886.6,262.0 M911.6,262.0 918.3,272.0 928.3,277.9 938.3,279.5 944.2,276.2 944.2,267.0 945.8,262.0 M948.0,350.5 945.8,358.8 946.7,368.8 M776.4,380.5 788.1,375.5 798.1,372.2 M751.4,387.2 764.7,386.3 774.7,384.7 M851.5,375.5 859.9,375.5 853.2,382.2 M806.5,380.5 814.8,381.3 814.8,385.5 821.5,390.5 829.8,393.0 M988.9,262.0 983.9,270.3 983.1,278.7 988.1,287.0 989.7,297.1 993.1,307.1 998.1,315.4 996.4,320.4 989.7,325.4 981.4,328.8 971.4,332.1 961.4,334.6 960.5,340.4 962.2,347.1 M948.0,353.8 953.0,350.5 958.0,349.6 M1024.8,262.0 1028.1,267.0 1034.8,273.7 1043.1,273.7 1053.2,271.2 1059.8,268.7 M1018.1,317.9 1026.4,323.8 1038.1,326.3 1048.1,325.4 1053.2,320.4 1064.8,317.1 1078.2,315.4 1089.9,312.1 1094.9,307.9 1103.2,307.1 1108.2,308.7 1111.6,315.4 1116.6,316.2 1123.3,312.1 1129.9,308.7 1136.6,306.2 1143.3,308.7 1146.6,312.1 1156.6,312.9 1166.7,311.2 1178.0,310.4 M1067.3,358.0 1078.2,353.8 1089.9,349.6 1101.6,345.5 1114.9,343.8 1129.9,343.8 1136.6,352.1 1139.9,358.8 1141.6,368.8 1140.8,377.2 1143.3,381.3 M1152.5,340.4 1158.3,343.8 1168.3,345.5 1178.0,343.8 M1072.3,387.2 1079.9,382.2 1081.5,372.2 1088.2,371.3 M1143.3,381.3 1155.0,382.2 1165.0,385.5 1171.7,390.5 1178.0,392.2 M1233.1,262.0 1228.1,270.3 1221.4,278.7 1218.1,288.7 1216.4,295.4 1211.4,300.4 1206.4,307.1 M1267.3,262.0 1268.2,270.3 1266.5,280.4 1271.5,290.4 1279.9,295.4 1288.2,295.4 1296.5,292.9 M1300.7,262.0 1301.6,270.3 1303.2,280.4 1305.7,288.7 M1248.1,287.0 1251.5,293.7 1249.0,303.7 1251.5,313.7 1256.5,320.4 1259.8,328.8 1259.0,338.8 1254.8,345.5 1248.1,348.8 1242.3,355.5 1238.1,362.1 1233.1,367.2 1229.8,370.5 M1148.0,312.1 1158.0,312.1 1169.7,310.4 1178.0,312.9 1186.4,315.4 1193.1,319.6 1198.1,324.6 M1186.4,272.0 1193.1,277.0 1198.1,283.7 M1152.2,340.4 1158.0,343.8 1168.0,344.6 1176.4,345.5 1179.7,353.8 1183.1,362.1 1185.6,372.2 1187.2,382.2 1189.7,393.0 M1148.0,382.2 1156.3,381.3 1164.7,384.7 1173.0,390.5 1178.0,393.0 M522.2,442.2 528.1,445.6 536.4,444.7 543.1,439.7 551.4,436.4 561.4,434.7 574.8,434.7 584.8,436.4 593.2,440.6 601.5,446.4 609.8,448.1 619.9,450.6 628.2,454.8 634.9,456.4 644.9,455.6 653.2,454.8 659.9,452.3 M522.2,442.2 523.9,449.7 527.2,456.4 529.7,463.1 528.9,469.8 525.6,476.5 M711.7,501.5 718.0,499.8 M718.0,502.3 724.7,501.5 730.5,498.2 734.7,494.8 741.4,491.5 749.7,489.8 758.1,492.3 764.7,496.5 769.7,503.2 772.2,509.8 M800.6,484.0 803.1,487.3 809.8,485.6 814.8,480.6 818.1,474.8 824.8,471.4 828.2,475.6 834.8,479.8 841.5,484.0 849.9,484.0 854.9,486.5 858.2,491.5 863.2,494.8 871.6,495.6 879.9,494.0 886.6,491.5 M814.8,480.6 814.0,489.8 810.6,499.8 803.1,506.5 794.8,513.2 788.1,519.9 784.8,524.0 M851.5,432.2 856.5,437.2 864.9,440.6 873.2,441.4 879.9,443.1 884.9,449.7 889.9,452.3 898.3,451.4 903.3,454.8 908.3,459.8 909.1,466.4 905.8,473.1 904.9,479.8 901.6,484.8 893.3,488.1 M928.3,438.1 935.0,441.4 940.0,448.1 942.5,456.4 945.0,464.8 948.0,471.4 M814.8,524.0 824.8,521.5 838.2,522.4 851.5,520.7 861.5,516.5 871.6,512.3 881.6,508.2 891.6,504.8 899.9,502.3 903.3,509.8 902.4,518.2 900.8,524.0 M891.6,491.5 893.3,496.5 898.3,501.5 M978.9,416.4 980.5,426.4 974.7,434.7 966.4,438.1 962.2,444.7 M948.0,469.8 954.7,476.5 958.0,486.5 963.0,494.8 966.4,503.2 M1056.5,440.6 1046.5,439.7 1038.1,444.7 1026.4,448.1 1018.1,456.4 1013.1,463.1 1014.8,471.4 1018.1,483.1 M1050.6,451.4 1058.2,450.6 1064.8,448.1 1072.3,451.4 1075.7,456.4 1073.2,464.8 1068.2,473.1 1064.8,479.8 1064.0,489.8 1063.2,499.8 M1083.2,414.7 1091.5,411.4 1101.6,408.0 1113.2,404.7 1123.3,403.0 1129.9,400.5 1133.3,406.4 1138.3,416.4 1143.3,424.7 1147.5,433.1 1148.3,441.4 M1136.6,393.0 1135.8,401.3 1139.9,408.0 1148.3,409.7 1158.3,408.9 1166.7,412.2 1173.3,411.4 M1120.8,431.4 1126.6,439.7 1129.1,449.7 1129.9,456.4 M1118.2,475.6 1111.6,481.5 1108.2,489.8 1101.6,494.8 M988.9,508.2 985.6,514.8 979.7,519.9 M1148.0,408.9 1158.0,410.5 1168.0,412.2 1176.4,416.4 1183.9,419.7 M1178.0,393.0 1183.1,398.0 1189.7,403.0 M581.5,529.0 588.1,525.7 596.5,524.0 606.5,525.7 M640.7,528.2 633.2,529.8 629.0,535.7 626.5,544.0 628.2,554.0 629.9,562.4 631.5,569.1 M687.5,544.9 674.9,545.7 668.3,550.7 659.9,557.4 651.6,564.1 644.1,569.9 641.6,577.4 642.4,584.1 M689.1,529.8 696.6,534.0 704.1,537.4 706.7,545.7 M648.2,582.4 656.6,579.9 668.3,580.7 676.6,583.3 M785.6,524.0 779.8,529.0 774.7,534.0 769.7,540.7 764.7,546.5 763.1,550.7 768.1,551.5 M743.0,537.4 748.0,540.7 752.2,545.7 755.6,553.2 M811.5,524.0 808.1,530.7 804.8,537.4 806.5,545.7 809.8,551.5 818.1,554.0 824.8,555.7 829.8,559.9 838.2,563.2 846.5,561.6 853.2,556.5 861.5,553.2 869.9,550.7 878.2,551.5 886.6,548.2 893.3,544.9 899.9,540.7 902.4,535.7 899.9,529.0 901.6,524.0 M795.6,576.6 803.1,580.7 811.5,584.1 819.8,586.6 826.5,585.8 831.5,590.8 836.5,597.4 841.5,604.1 844.9,610.8 M917.5,563.2 909.9,567.4 904.9,574.1 896.6,579.1 891.6,585.8 886.6,594.1 880.7,599.1 877.4,605.8 876.6,612.5 873.2,615.8 M948.0,545.7 940.0,550.7 930.0,555.7 923.3,560.7 922.5,565.7 925.0,568.2 M886.6,596.6 894.9,597.4 903.3,596.6 911.6,598.3 921.6,596.6 933.3,594.1 943.3,591.6 948.0,589.9 M783.9,607.5 781.4,612.5 782.3,620.8 779.8,627.5 781.4,635.8 784.8,640.8 783.9,647.5 776.4,650.9 M948.0,615.8 943.3,618.3 941.7,622.5 M974.7,525.7 971.4,530.7 963.0,535.7 954.7,540.7 948.0,545.7 M955.5,569.9 954.7,574.9 959.7,579.1 969.7,578.2 981.4,577.4 993.1,576.6 1001.4,579.1 M1018.1,576.6 1011.4,581.6 1006.4,589.1 1001.4,594.1 994.7,600.8 988.1,605.8 981.4,605.8 974.7,607.5 964.7,609.1 954.7,613.3 948.0,616.6" fill="none" stroke="#94b6e8" stroke-opacity=".55" stroke-width="1.5" stroke-linejoin="round" stroke-linecap="round"/>
<path d="M702.5,0.0 700.0,3.3 696.6,8.3 694.1,15.0 691.6,21.7 687.5,30.0 688.3,34.2 695.0,35.9 699.1,39.2 705.0,44.2 708.3,49.2 703.3,50.9 697.5,51.7 695.0,56.7 692.5,63.4 688.3,65.9 681.6,64.3 674.9,61.8 668.3,58.4 661.6,55.9 654.9,55.1 648.2,53.4 644.9,53.4 644.1,58.4 645.7,65.1 646.6,71.8 650.7,75.9 655.7,78.4 655.7,81.8 652.4,85.1 648.2,86.8 643.2,83.5 636.5,82.6 632.9,86.0 634.9,91.0 638.2,96.8 639.9,103.5 638.2,108.5 641.6,110.2 646.6,111.0 649.9,116.8 654.9,120.2 658.2,122.7 663.3,119.3 667.4,119.3 671.6,123.5 678.3,124.3 688.3,124.3 697.5,123.8 700.0,125.2 696.6,131.0 M488.0,91.0 492.2,87.6 496.3,90.1 500.5,93.5 504.7,94.3 507.2,96.8 506.4,101.8 511.4,105.2 518.0,106.8 523.1,108.2 523.9,111.0 519.7,114.3 513.0,116.8 509.7,119.3 508.0,124.3 505.5,131.0 M792.9,131.0 791.6,128.5 787.9,129.5 784.4,128.5 783.9,125.2 784.8,119.3 789.8,116.8 793.9,110.2 796.4,103.5 798.1,96.8 803.1,91.0 809.8,86.0 818.1,81.8 822.3,75.9 828.2,70.9 833.2,66.8 834.8,70.1 837.3,69.3 838.2,63.4 840.7,56.7 846.5,55.1 853.2,57.6 861.5,60.1 862.4,66.8 864.0,72.6 868.2,71.8 873.2,78.4 878.2,85.1 883.2,91.8 886.6,96.0 892.4,92.6 895.8,81.8 892.4,71.8 888.2,61.8 887.4,59.3 894.9,58.1 899.9,54.2 904.9,51.7 909.9,55.9 915.8,58.4 920.0,50.1 920.8,43.4 916.6,38.4 925.0,32.5 928.3,37.6 935.0,44.2 940.0,51.7 944.2,54.2 948.0,54.2 M1052.3,0.0 1050.6,4.2 1044.8,9.2 1038.1,15.0 1031.5,19.2 1025.6,20.9 1024.8,28.4 1021.4,38.4 1016.4,43.4 1012.3,48.4 1011.4,55.1 1011.1,61.8 1001.4,62.1 989.7,63.1 981.4,61.4 974.7,62.6 966.4,61.8 959.7,61.4 956.3,57.6 952.2,54.7 948.0,53.7 M1093.2,96.0 1089.0,99.3 1084.9,103.5 1078.2,105.2 1072.3,108.5 1068.2,113.5 1064.8,120.2 1064.0,126.9 1063.2,131.0 M505.5,131.0 503.9,135.2 500.5,140.2 498.8,146.0 493.0,144.4 488.0,143.0 M488.0,156.9 496.3,151.9 504.7,147.7 513.0,144.4 521.4,141.0 523.9,146.0 527.2,150.2 536.4,151.0 543.1,147.7 548.9,142.7 551.4,137.7 554.8,136.8 556.4,140.2 555.6,146.0 552.3,150.2 549.8,154.4 552.3,158.5 553.9,164.4 552.3,169.4 554.8,174.4 561.4,177.7 569.8,179.4 578.1,180.2 579.0,172.7 583.1,171.9 589.8,175.2 596.5,179.4 599.8,181.1 608.2,181.1 614.9,178.6 621.5,181.9 624.0,186.9 624.9,194.4 624.9,204.6 631.5,205.4 639.9,205.4 642.4,209.8 646.6,214.5 648.2,218.6 654.9,219.5 661.6,219.5 664.9,216.1 671.6,212.8 678.3,209.4 679.9,204.4 686.6,201.9 683.3,194.4 685.8,188.6 691.6,186.1 696.6,186.9 700.8,192.8 705.0,196.1 M661.6,219.5 662.4,227.8 662.4,237.8 664.9,242.0 676.6,240.3 677.4,251.2 676.6,262.0 M695.0,131.0 694.1,134.3 700.0,136.8 703.3,142.7 706.7,149.4 711.7,152.7 718.0,149.4 M718.0,149.4 715.8,156.0 715.0,162.7 718.0,169.4 718.5,176.9 718.5,185.2 718.7,197.8 718.7,203.8 M718.0,185.2 710.0,186.1 706.7,189.4 705.0,196.1 718.0,197.8 M705.0,196.1 703.3,202.8 710.0,204.1 718.0,203.6 M791.4,131.0 790.6,137.7 791.4,144.4 792.3,151.0 791.4,157.7 784.8,152.7 778.9,146.0 776.4,139.3 771.4,136.0 766.4,136.0 762.2,142.7 761.4,149.4 765.6,156.0 773.1,161.0 776.4,169.4 780.6,175.2 786.4,176.1 790.6,177.4 789.8,181.9 784.8,183.1 776.4,181.9 766.4,179.4 759.7,176.1 753.1,175.2 746.4,176.9 739.7,176.9 733.0,179.4 726.3,182.7 721.3,186.1 718.0,185.2 M1063.2,131.0 1064.0,134.3 1056.5,135.2 1054.8,139.3 1048.1,143.5 1044.0,146.9 1044.8,156.0 1041.5,164.4 1037.3,171.1 1039.0,176.1 1034.8,182.7 1036.5,188.6 1039.8,194.4 1041.5,201.1 1046.5,207.8 1053.2,214.5 1057.3,219.5 1056.5,227.8 1055.7,236.2 1059.8,241.2 1067.3,246.2 1070.7,251.2 1078.2,255.3 1085.7,258.7 M676.6,262.0 672.4,267.0 669.1,275.4 667.4,285.4 668.3,292.0 673.3,294.5 681.6,295.4 688.3,297.9 692.5,303.7 698.3,306.2 696.6,313.7 693.3,322.1 688.3,328.8 681.6,335.4 679.9,342.1 680.8,349.6 687.5,348.0 688.3,344.6 695.0,344.1 703.3,343.8 711.7,345.1 718.0,349.6 M718.0,349.6 723.0,357.1 728.0,362.1 733.9,363.8 734.7,372.2 739.7,377.2 746.4,382.2 748.9,387.2 754.7,388.0 758.1,393.0 M753.1,375.5 759.7,374.7 768.1,376.3 773.9,379.7 776.4,385.5 778.1,388.9 784.8,387.2 791.4,384.7 794.8,379.7 795.6,373.8 799.8,372.2 804.0,375.5 806.5,381.3 809.8,385.5 816.5,388.0 821.5,391.4 824.0,393.0 M846.5,393.0 851.5,388.9 854.9,383.8 858.2,378.8 861.5,375.5 864.9,377.2 869.9,377.2 876.6,372.2 882.4,365.5 886.6,357.1 891.6,351.3 898.3,348.8 903.3,348.5 907.4,352.1 909.9,358.0 918.3,363.0 926.6,368.8 933.3,373.0 938.3,375.2 945.0,373.0 948.0,373.8 M1085.7,258.7 1088.2,265.8 1090.0,271.8 1097.4,274.5 1099.9,279.5 1104.1,283.7 1110.7,285.4 1114.9,288.7 1119.1,293.7 1119.9,297.1 1113.2,298.7 1104.9,300.4 1098.2,297.1 1091.5,292.9 1084.9,289.5 1078.2,291.2 1074.0,295.4 1071.5,302.1 1066.5,307.1 1059.0,310.4 1051.5,308.7 1043.1,307.1 1035.6,305.1 1036.5,307.9 1044.0,311.2 1044.8,318.7 1038.1,320.4 1036.5,325.4 1034.8,330.4 1043.1,331.3 1048.1,334.6 1048.1,337.9 1041.5,341.3 1031.5,344.6 1026.4,347.1 1027.3,353.8 1031.5,360.5 1034.0,365.5 1039.8,362.1 1046.5,363.8 1051.5,368.0 1061.5,368.8 1065.7,373.8 1069.0,378.8 1071.5,386.3 1069.0,393.0 M1026.4,347.1 1021.4,342.1 1014.8,341.8 1009.8,343.0 1003.1,348.8 997.2,354.6 995.6,350.5 992.2,346.3 988.1,343.0 981.4,345.5 976.4,348.8 969.7,347.1 963.0,348.8 958.0,349.6 955.5,355.5 954.7,362.1 951.3,368.8 948.0,375.5 M758.1,393.0 758.9,398.0 766.4,403.0 764.7,411.4 761.4,415.5 751.4,418.0 741.4,421.4 733.0,426.4 729.7,433.1 728.0,441.4 726.3,449.7 720.5,453.9 722.2,457.3 729.7,459.8 736.4,462.3 740.5,464.8 739.7,473.1 738.9,483.1 734.7,489.8 734.7,494.8 739.7,499.8 744.7,506.5 749.7,513.2 756.4,519.9 763.1,521.5 762.2,524.0 M821.5,393.0 824.0,398.0 829.0,402.2 833.2,408.9 837.3,406.4 838.2,401.3 841.5,397.2 848.2,393.0 M1069.0,398.8 1073.2,406.4 1078.2,413.0 1086.5,418.0 1094.9,422.2 1103.2,424.7 1111.6,423.0 1117.4,428.1 1115.7,434.7 1116.6,443.1 1110.7,449.7 1108.2,456.4 1111.6,463.1 1110.7,469.8 1116.6,474.8 1121.6,476.5 1124.9,478.1 M763.9,524.0 758.1,527.3 751.4,529.0 743.0,524.0 739.7,526.5 733.0,527.3 730.5,531.5 733.9,536.5 736.4,540.7 737.2,547.4 734.7,552.4 733.0,557.4 731.4,563.2 727.2,565.7 733.0,568.2 739.7,567.4 744.7,565.7 748.0,569.9 753.1,575.7 757.2,581.6 757.2,586.6 753.1,589.1 746.4,592.4 740.5,595.8 738.0,599.9 733.0,601.6 731.4,610.8 731.0,619.1 730.5,625.8" fill="none" stroke="#777" stroke-width="1.4" stroke-linejoin="round"/>
<path d="M1102.4,-1.7 1099.9,3.3 1094.9,8.3 1088.2,11.7 1083.2,16.7 1079.9,22.5 1080.2,28.4 1082.4,35.1 1086.5,40.9 1091.5,45.1 1096.5,50.1 1100.7,55.9 1105.7,60.9 1108.6,64.3 1106.6,66.8 1099.9,67.6 1095.7,69.3 1094.5,73.4 1094.9,83.5 1094.5,94.3 1093.2,96.0 1098.2,96.8 1103.2,100.1 1106.6,106.8 1113.2,113.5 1118.2,121.0 1123.3,126.0 1128.3,129.4 1131.6,140.2 1138.3,148.5 1148.0,150.7 1154.7,148.5 1159.7,151.9 1166.4,155.2 1175.5,160.7 1180.5,158.5 1189.7,161.0 1193.1,166.1 1201.4,172.7 1207.3,171.9 1212.3,178.6 1221.4,184.1 1230.6,181.9 1239.8,181.9 1244.0,188.6 1247.3,194.1 1254.8,191.1 1263.2,191.9 1266.5,194.4 1267.3,188.6 1276.5,187.7 1283.2,184.4 1289.9,180.7 1296.5,181.1 1301.6,177.7 1310.7,174.7 1319.9,174.7 1326.6,175.2 1329.1,170.2 1331.6,163.5 1336.6,162.4 1345.8,162.4 1346.3,166.9 1344.1,171.9 1345.8,176.9 1343.3,181.1 1347.5,187.7 1354.1,196.1 1359.1,201.9 1359.1,209.4 1356.6,217.8 1352.5,222.0 1344.1,227.0 1344.1,232.8 1346.6,239.5 1343.3,247.8 1336.6,254.5 1328.3,259.5 1321.6,262.0 1322.4,262.0 1318.2,265.3 1316.6,272.0 1314.9,278.7 1314.1,285.4 1308.2,288.7 1301.6,292.9 1297.4,297.1 1296.2,303.7 1298.2,310.4 1300.7,317.1 1303.2,325.4 1306.6,332.1 1308.2,335.4 1303.2,338.8 1298.2,343.0 1294.9,347.1 1294.0,350.5 1289.9,348.0 1284.9,348.8 1279.9,353.0 1274.9,357.1 1272.3,360.5 1271.5,364.6 1264.8,366.3 1258.2,367.2 1253.2,368.8 1249.8,372.2 1248.1,377.2 1250.6,382.2 1246.5,386.3 1244.8,381.3 1244.0,377.2 1241.5,375.5 1239.8,380.5 1236.5,382.2 1231.5,379.7 1226.4,378.8 1221.4,381.3 1218.1,385.5 1215.6,393.0 1215.6,393.0 1213.1,397.2 1208.1,401.3 1205.6,398.0 1199.7,398.0 1193.9,399.7 1189.7,403.8 1186.4,409.7 1184.7,418.0 1185.1,426.4 1187.2,434.7 1189.7,440.6 1189.7,445.6 1185.6,447.2 1183.9,443.1 1181.4,438.1 1176.4,436.7 1171.4,438.1 1166.4,443.1 1161.4,448.9 1158.0,451.4 1155.0,446.4 1148.3,446.4 1139.9,448.9 1133.3,453.1 1129.1,459.8 1128.3,464.8 1131.6,468.9 1130.8,473.1 1126.6,476.5 1124.1,483.1 1122.4,489.8 1118.2,494.8 1113.2,499.8 1104.9,502.3 1104.1,508.2 1098.2,509.0 1091.5,509.8 1081.5,512.3 1074.9,508.2 1069.8,508.2 1066.5,510.7 1064.0,516.5 1063.2,524.0 1063.2,524.0 1060.7,529.0 1059.8,535.7 1058.2,540.7 1051.5,543.2 1046.5,546.5 1044.8,554.0 1038.1,557.4 1031.5,561.6 1025.6,566.6 1020.6,571.6 1019.8,576.6 1023.1,578.7 1031.5,577.4 1038.1,573.7 1044.0,576.6 1048.1,571.6 1052.3,574.1 1054.8,577.4 1052.3,583.3 1046.5,586.6 1045.6,594.1 1047.3,600.8 1050.6,605.8 1044.8,608.3 1040.6,613.3 1039.8,619.1 1035.6,620.0 1032.3,622.5 1028.1,616.6 1024.8,613.3 1018.1,612.5 1011.4,612.1 1006.4,615.8 1005.6,620.8 999.7,624.1 992.2,629.2 984.7,627.1 978.0,629.2 975.5,632.5 971.4,630.5 964.7,631.7 958.0,634.2 953.0,639.2 951.3,645.8 953.0,655.0 953.1,654.2 952.2,657.5 946.4,657.5 940.5,655.9 936.4,651.7 933.0,650.0 928.0,649.2 924.7,645.9 919.7,645.0 921.6,645.9 913.3,648.4 904.9,649.7 898.3,650.0 893.3,654.2 889.1,660.1 886.6,668.4 885.7,676.7 887.4,683.4 889.1,685.9 884.9,687.6 878.2,685.1 871.6,687.1 868.2,685.9 868.2,683.4 874.9,682.6 879.1,680.1 879.9,673.4 877.4,667.6 873.2,664.2 866.5,663.1 859.9,663.7 853.2,665.9 846.5,666.4 843.2,664.2 842.3,659.2 838.2,656.7 829.8,655.0 821.5,655.9 814.0,655.9 813.1,650.9 809.0,650.0 803.1,651.7 799.8,654.2 800.6,658.4 806.5,658.4 807.3,662.6 804.0,666.7 801.5,669.2 796.4,673.4 793.1,678.4 789.8,681.7 784.8,682.6 779.8,680.1 775.6,675.9 771.4,672.6 773.9,667.6 775.6,661.7 775.6,655.9 771.4,654.2 764.7,653.4 763.9,649.2 763.1,645.0 758.9,645.9 751.4,646.7 747.2,643.4 743.0,640.9 738.0,641.7 736.4,637.5 737.2,632.5 734.7,627.5 728.0,625.0 721.3,623.8 718.0,624.2 718.0,624.1 713.3,626.6 709.2,635.0 703.3,632.5 696.6,627.5 692.5,621.6 690.0,615.8 685.8,615.0 681.6,616.6 677.4,620.0 669.9,617.5 661.6,615.8 653.2,617.5 644.9,616.6 638.2,615.8 629.9,616.6 624.0,615.0 625.7,609.1 629.9,604.1 632.4,599.1 632.4,594.1 629.0,589.9 626.2,585.8 627.4,581.6 630.7,577.4 629.9,571.6 626.5,564.9 621.5,559.1 616.5,554.0 610.7,551.5 604.8,553.2 599.8,557.4 593.2,561.6 584.8,565.7 574.8,564.9 564.8,566.6 554.8,565.7 541.4,565.7 533.1,567.7 526.4,566.6 521.4,562.4 519.7,555.7 515.5,549.0 511.4,543.2 509.7,537.4 506.4,535.7 504.7,529.8 501.4,526.5 494.7,524.8 484.7,522.7" fill="none" stroke="#666" stroke-width="2" stroke-linejoin="round"/>
<ellipse cx="1163.0" cy="460.3" rx="6.3" ry="2.0" fill="none" stroke="#aaa" stroke-width="1"/>
<path d="M956.4,696.8 959.7,692.6 965.6,689.3 970.6,688.4 972.2,691.8 970.6,695.9 967.2,699.3 962.2,698.4 958.1,698.4Z" fill="#fff" stroke="#9a9a9a" stroke-width="1.1" stroke-linejoin="round"/>
<path d="M976.4,690.9 977.3,685.9 982.3,683.4 985.6,679.2 988.9,675.1 994.8,672.6 999.8,672.2 999.8,675.1 994.8,677.6 991.4,681.7 989.8,685.9 984.8,689.3 981.4,689.3 978.9,693.4 976.4,692.6Z" fill="#fff" stroke="#9a9a9a" stroke-width="1.1" stroke-linejoin="round"/>
<path d="M890.8,698.4 898.3,695.9 906.6,694.3 911.6,690.9 915.0,688.4 918.3,691.8 918.3,696.8 913.3,700.9 906.6,704.3 902.4,706.8 899.1,703.4 894.9,700.9Z" fill="#fff" stroke="#9a9a9a" stroke-width="1.1" stroke-linejoin="round"/>
<path d="M804.8,666.7 811.5,665.6 818.1,666.4 820.6,669.2 818.1,671.7 811.5,673.1 807.3,671.7 804.8,669.2Z" fill="#fff" stroke="#666" stroke-width="1.6" stroke-linejoin="round"/>
<path d="M528.1,131.0 536.4,125.2 543.1,119.3 549.8,113.5 552.3,110.2" fill="none" stroke="#e9ec9c" stroke-width="3" stroke-linejoin="round" stroke-linecap="round"/>
<path d="M792.9,131.9 791.6,128.5 787.9,129.5 784.4,128.5 783.9,125.2 784.8,119.3 789.8,116.8 793.9,110.2 796.4,103.5 798.1,96.8 803.1,91.0 809.8,86.0 818.1,81.8 822.3,75.9 828.2,70.9 833.2,66.8" fill="none" stroke="#5f9a7d" stroke-width="2.6" stroke-linejoin="round" stroke-linecap="round"/>
<path d="M833.2,66.8 831.5,61.8 836.5,57.6 839.8,55.9" fill="none" stroke="#8ad2ab" stroke-width="2.6" stroke-linejoin="round" stroke-linecap="round"/>
<path d="M839.8,55.9 846.5,55.1 853.2,57.6 861.5,60.1" fill="none" stroke="#5f9a7d" stroke-width="2.6" stroke-linejoin="round" stroke-linecap="round"/>
<path d="M861.5,60.1 871.6,61.4 881.6,60.9 887.4,59.3" fill="none" stroke="#8ad2ab" stroke-width="2.6" stroke-linejoin="round" stroke-linecap="round"/>
<path d="M887.4,59.3 894.9,58.1" fill="none" stroke="#5f9a7d" stroke-width="2.6" stroke-linejoin="round" stroke-linecap="round"/>
<path d="M529.7,131.0 523.9,137.7 521.4,141.0" fill="none" stroke="#e9ec9c" stroke-width="3" stroke-linejoin="round" stroke-linecap="round"/>
<path d="M521.4,141.0 513.0,144.4 504.7,147.7 496.3,151.9 488.0,156.9" fill="none" stroke="#b9bd7e" stroke-width="2.2" stroke-linejoin="round" stroke-linecap="round"/>
<path d="M488.0,222.0 489.7,211.1 494.7,197.8 499.7,184.4 504.7,174.4 506.4,168.6 513.0,165.2 519.7,168.6 527.2,171.1 534.7,175.2 543.1,175.2" fill="none" stroke="#e9ec9c" stroke-width="3" stroke-linejoin="round" stroke-linecap="round"/>
<path d="M791.4,130.2 790.6,137.7 791.4,144.4 792.3,151.0 791.4,157.7" fill="none" stroke="#5fa27f" stroke-width="2.6" stroke-linejoin="round" stroke-linecap="round"/>
<path d="M791.4,157.7 793.9,164.4 797.3,171.1 800.6,176.9 802.3,182.7 803.1,189.4 805.6,196.1 809.8,201.9 814.0,207.8 818.1,212.8 823.2,217.8 826.5,222.0 824.8,229.5 822.3,237.8 816.5,242.8 810.6,247.8 805.6,254.5 801.5,262.9" fill="none" stroke="#6fd6a2" stroke-width="2.8" stroke-linejoin="round" stroke-linecap="round"/>
<path d="M1067.3,201.9 1074.9,203.6 1081.5,206.1 1086.5,210.3 1089.0,217.8 1089.5,224.5 1087.4,231.1 1083.2,237.8 1077.4,242.8 1072.3,248.7 1067.3,254.5 1063.2,259.5 1061.5,262.9" fill="none" stroke="#e9a82c" stroke-width="3.2" stroke-linejoin="round" stroke-linecap="round"/>
<path d="M504.7,337.1 511.4,334.6 518.0,334.6 523.1,337.9 528.1,340.4 534.7,337.9 541.4,334.6 551.4,334.1 558.1,334.6 571.5,335.1 584.8,335.4 596.5,334.1 608.2,332.9 614.9,328.8 621.5,324.6 626.5,322.1 633.2,322.9 638.2,323.8 644.9,321.3 649.9,323.8 654.9,330.4 659.9,335.4 664.9,337.1 671.6,335.4 679.9,335.4" fill="none" stroke="#e9ec9c" stroke-width="3.2" stroke-linejoin="round" stroke-linecap="round"/>
<path d="M486.3,326.8 493.0,329.6 499.7,335.4 506.4,342.1 513.0,347.1 518.9,351.3 522.2,358.8 523.9,366.3 531.4,370.5 541.4,375.5 551.4,380.5 561.4,385.5 566.4,388.0 574.8,384.7 584.8,383.0 596.5,384.7 606.5,386.3 613.2,390.5 615.2,392.5" fill="none" stroke="#5e9279" stroke-width="2.8" stroke-linejoin="round" stroke-linecap="round"/>
<path d="M801.5,261.2 797.3,267.0 794.8,275.4 793.1,283.7 789.8,290.4 789.8,297.9 787.3,305.4 787.3,312.1 784.8,320.4 779.8,330.4 774.7,340.4 769.7,350.5 764.7,360.5 758.1,370.5 753.1,380.5 748.9,387.2 746.4,393.9" fill="none" stroke="#6fd6a2" stroke-width="2.8" stroke-linejoin="round" stroke-linecap="round"/>
<path d="M1061.5,260.3 1062.3,267.0 1068.2,271.2 1076.5,273.7 1086.5,274.0 1098.2,272.8 1111.6,273.3 1124.9,274.0 1138.3,274.5 1151.6,275.4 1160.0,277.9 1168.3,280.4 1179.2,277.9" fill="none" stroke="#e9a82c" stroke-width="3.2" stroke-linejoin="round" stroke-linecap="round"/>
<path d="M1147.2,274.5 1154.7,276.2 1159.7,278.7 1164.7,277.9 1169.7,281.2 1174.7,278.7 1181.4,277.9 1188.1,282.0 1194.7,286.2 1199.7,288.7 1198.1,295.4 1199.7,302.1 1201.4,307.1 1200.6,315.4 1199.7,323.8" fill="none" stroke="#e9a82c" stroke-width="3.2" stroke-linejoin="round" stroke-linecap="round"/>
<path d="M1198.9,324.6 1199.7,328.8 1203.9,333.8 1208.1,338.8 1208.9,343.8 1206.4,349.6 1202.2,355.5 1199.4,362.1 1199.7,370.5 1201.4,378.8 1203.1,387.2 1203.9,393.9" fill="none" stroke="#e3222b" stroke-width="3.2" stroke-linejoin="round" stroke-linecap="round"/>
<path d="M548.1,486.5 551.4,489.8 558.1,490.6 563.1,489.8 566.4,486.5 569.8,481.5 573.1,477.3 576.5,474.8 581.5,471.4 588.1,470.6 593.2,472.3 598.2,475.6 604.8,480.6 611.5,484.0 616.5,486.5 621.5,488.1 628.2,484.8 634.9,486.5 641.6,485.6 648.2,484.8 654.9,484.8 659.9,485.6 664.9,484.0 669.9,484.8 674.9,487.3 678.3,493.1 683.3,495.6 690.0,496.5 696.6,498.2 705.0,498.2 711.7,501.5" fill="none" stroke="#38cf68" stroke-width="3.2" stroke-linejoin="round" stroke-linecap="round"/>
<path d="M615.2,392.5 619.9,396.3 629.9,401.3 641.6,407.2 653.2,412.2 664.9,416.4 671.6,418.0 679.9,418.4 691.6,417.7 701.6,417.2 710.0,413.0 715.8,408.0 719.2,403.8" fill="none" stroke="#5e9279" stroke-width="2.8" stroke-linejoin="round" stroke-linecap="round"/>
<path d="M717.2,405.9 724.7,403.0 731.4,402.2 736.4,399.7 739.7,395.5 743.0,392.2" fill="none" stroke="#5e9279" stroke-width="2.8" stroke-linejoin="round" stroke-linecap="round"/>
<path d="M893.3,489.0 899.9,488.1 906.6,487.3 911.6,488.1 918.3,489.0 923.3,488.1 927.5,491.5 931.6,494.8 935.0,494.0 940.0,498.2 945.0,501.5 949.2,505.2" fill="none" stroke="#38cf68" stroke-width="3.2" stroke-linejoin="round" stroke-linecap="round"/>
<path d="M963.0,452.3 966.4,458.1 969.7,464.8 976.4,468.1 981.4,472.3 986.4,477.3 993.1,479.8 1001.4,479.8 1008.1,482.3 1012.3,487.3 1011.4,493.1 1008.9,498.2 1003.1,500.7 996.4,503.2 993.1,505.7 987.2,503.2 981.4,500.7 978.0,499.0 971.4,502.3 966.4,504.8 964.7,509.8 959.7,511.5 953.0,510.7 947.2,507.0" fill="none" stroke="#38cf68" stroke-width="3.2" stroke-linejoin="round" stroke-linecap="round"/>
<path d="M1012.3,489.8 1018.1,490.6 1024.8,489.8 1026.4,493.1 1031.5,495.6 1038.1,494.8 1043.1,499.0 1048.1,502.3 1051.5,507.3 1056.5,508.2 1061.5,511.5 1065.7,513.2" fill="none" stroke="#38cf68" stroke-width="3.2" stroke-linejoin="round" stroke-linecap="round"/>
<path d="M1205.2,392.2 1206.4,398.0 1208.1,400.5" fill="none" stroke="#e3222b" stroke-width="3.2" stroke-linejoin="round" stroke-linecap="round"/>
<path d="M676.6,583.3 683.3,581.6 690.0,579.1 696.6,575.7 701.6,572.4 702.5,565.7 705.0,557.4 706.7,549.0 710.0,544.9 719.2,543.2" fill="none" stroke="#38cf68" stroke-width="3.2" stroke-linejoin="round" stroke-linecap="round"/>
<path d="M717.2,545.2 724.7,542.4 731.4,539.0 734.7,537.4" fill="none" stroke="#38cf68" stroke-width="3.2" stroke-linejoin="round" stroke-linecap="round"/>
<path d="M846.5,616.6 849.9,622.5 853.2,627.5 856.5,630.8 861.5,635.0 864.9,636.7 871.6,635.5 875.7,633.3 874.9,629.2 870.7,625.8 869.1,620.0" fill="none" stroke="#38cf68" stroke-width="3.2" stroke-linejoin="round" stroke-linecap="round"/>
<path d="M875.7,633.3 881.6,635.0 886.6,639.2 891.6,644.2 897.4,650.0" fill="none" stroke="#38cf68" stroke-width="3.2" stroke-linejoin="round" stroke-linecap="round"/>
<rect x="603.4" y="513.6" width="138.6" height="139" fill="none" stroke="#33456b" stroke-width="1.2"/>
<path d="M737.2,641V648.5" stroke="#33456b" stroke-width="1.2"/>
<use href="#ct" x="836.0" y="20.4"/>
<use href="#ct" x="527.7" y="169.7"/>
<use href="#ct" x="801.0" y="182.7"/>
<use href="#ct" x="893.3" y="221.6"/>
<use href="#ct" x="520.0" y="346.0"/>
<use href="#ct" x="755.6" y="340.1"/>
<use href="#ct" x="1103.2" y="270.3"/>
<use href="#ct" x="1227.3" y="376.3"/>
<use href="#ct" x="669.1" y="404.2"/>
<use href="#ct" x="652.9" y="477.3"/>
<use href="#ct" x="976.4" y="460.1"/>
<use href="#ct" x="982.2" y="492.8"/>
<use href="#ct" x="1064.0" y="502.3"/>
<use href="#ct" x="1152.5" y="445.6"/>
<use href="#ct" x="634.0" y="578.6"/>
<use href="#ct" x="813.5" y="647.8"/>
<use href="#ct" x="876.9" y="648.0"/>
<g opacity=".999">
<text x="530.6" y="110.5" textLength="30.9" lengthAdjust="spacing" font-family="'DejaVu Sans','Liberation Sans',sans-serif" font-weight="200" font-size="10" fill="#4d4d4d">Nyons</text>
<text x="826.5" y="31.4" textLength="18.4" lengthAdjust="spacing" font-family="'Liberation Sans',sans-serif" font-size="10" fill="#808080">GAP</text>
<text x="526.7" y="189.1" textLength="94.9" lengthAdjust="spacing" font-family="'DejaVu Sans','Liberation Sans',sans-serif" font-weight="200" font-size="10" fill="#4d4d4d">Vaison-la-Romaine</text>
<text x="805.1" y="185.8" textLength="41.1" lengthAdjust="spacing" font-family="'DejaVu Sans','Liberation Sans',sans-serif" font-weight="200" font-size="10" fill="#4d4d4d">Sisteron</text>
<text x="864.9" y="176.4" textLength="18.4" lengthAdjust="spacing" font-family="'DejaVu Sans','Liberation Sans',sans-serif" font-weight="200" font-size="15" fill="#6e6e6e">04</text>
<text x="895" y="230.8" textLength="91" lengthAdjust="spacing" font-family="'Liberation Sans',sans-serif" font-size="10" fill="#808080">DIGNE-LES-BAINS</text>
<text x="592.3" y="306.2" textLength="19.2" lengthAdjust="spacing" font-family="'DejaVu Sans','Liberation Sans',sans-serif" font-weight="200" font-size="15" fill="#6e6e6e">84</text>
<text x="625.7" y="338" textLength="14.2" lengthAdjust="spacing" font-family="'DejaVu Sans','Liberation Sans',sans-serif" font-weight="200" font-size="10" fill="#4d4d4d">Apt</text>
<text x="523.9" y="348.8" textLength="46.7" lengthAdjust="spacing" font-family="'DejaVu Sans','Liberation Sans',sans-serif" font-weight="200" font-size="10" fill="#4d4d4d">Cavaillon</text>
<text x="703.4" y="348.8" textLength="49" lengthAdjust="spacing" font-family="'DejaVu Sans','Liberation Sans',sans-serif" font-weight="200" font-size="10" fill="#4d4d4d">Manosque</text>
<text x="1066.5" y="267" textLength="74.3" lengthAdjust="spacing" font-family="'DejaVu Sans','Liberation Sans',sans-serif" font-weight="200" font-size="10" fill="#4d4d4d">Puget-Théniers</text>
<text x="1099.9" y="375.5" textLength="19.2" lengthAdjust="spacing" font-family="'DejaVu Sans','Liberation Sans',sans-serif" font-weight="200" font-size="15" fill="#6e6e6e">06</text>
<text x="1229" y="374.7" textLength="23.3" lengthAdjust="spacing" font-family="'Liberation Sans',sans-serif" font-size="10" fill="#808080">NICE</text>
<text x="651.6" y="398.2" textLength="35" lengthAdjust="spacing" font-family="'DejaVu Sans','Liberation Sans',sans-serif" font-weight="200" font-size="10" fill="#4d4d4d">Pertuis</text>
<text x="656.1" y="474.8" textLength="79.5" lengthAdjust="spacing" font-family="'DejaVu Sans','Liberation Sans',sans-serif" font-weight="200" font-size="10" fill="#4d4d4d">Aix-en-Provence</text>
<text x="607.4" y="503.2" textLength="18.3" lengthAdjust="spacing" font-family="'DejaVu Sans','Liberation Sans',sans-serif" font-weight="200" font-size="15" fill="#6e6e6e">13</text>
<text x="939.2" y="490.7" textLength="40.5" lengthAdjust="spacing" font-family="'DejaVu Sans','Liberation Sans',sans-serif" font-weight="200" font-size="10" fill="#4d4d4d">Les Arcs</text>
<text x="978.4" y="457.8" textLength="58.9" lengthAdjust="spacing" font-family="'DejaVu Sans','Liberation Sans',sans-serif" font-weight="200" font-size="10" fill="#4d4d4d">Draguignan</text>
<text x="1068.2" y="505.7" textLength="30.9" lengthAdjust="spacing" font-family="'DejaVu Sans','Liberation Sans',sans-serif" font-weight="200" font-size="10" fill="#4d4d4d">Fréjus</text>
<text x="1135" y="439.4" textLength="35.9" lengthAdjust="spacing" font-family="'DejaVu Sans','Liberation Sans',sans-serif" font-weight="200" font-size="10" fill="#4d4d4d">Cannes</text>
<text x="634.9" y="591.6" textLength="57.6" lengthAdjust="spacing" font-family="'Liberation Sans',sans-serif" font-size="10" fill="#808080">MARSEILLE</text>
<text x="866.6" y="533.7" textLength="19.2" lengthAdjust="spacing" font-family="'DejaVu Sans','Liberation Sans',sans-serif" font-weight="200" font-size="15" fill="#6e6e6e">83</text>
<text x="792.8" y="643.9" textLength="42.1" lengthAdjust="spacing" font-family="'Liberation Sans',sans-serif" font-size="10" fill="#808080">TOULON</text>
<text x="859.9" y="661.4" textLength="32.6" lengthAdjust="spacing" font-family="'DejaVu Sans','Liberation Sans',sans-serif" font-weight="200" font-size="10" fill="#4d4d4d">Hyères</text>
</g>
<use href="#st" x="599.8" y="84.8"/>
<use href="#st" x="545.2" y="116.0"/>
<use href="#st" x="589.8" y="120.2"/>
<use href="#st" x="724.7" y="79.3"/>
<use href="#st" x="846.5" y="53.7"/>
<use href="#st" x="937.2" y="62.1"/>
<use href="#st" x="966.0" y="14.7"/>
<use href="#st" x="506.4" y="167.7"/>
<use href="#st" x="524.4" y="167.7"/>
<use href="#st" x="545.2" y="171.9"/>
<use href="#st" x="569.8" y="177.2"/>
<use href="#st" x="582.3" y="160.2"/>
<use href="#st" x="810.6" y="203.3"/>
<use href="#st" x="1066.5" y="199.1"/>
<use href="#st" x="1166.0" y="210.3"/>
<use href="#st" x="547.3" y="306.2"/>
<use href="#st" x="557.3" y="333.8"/>
<use href="#st" x="517.2" y="348.0"/>
<use href="#st" x="631.9" y="322.9"/>
<use href="#st" x="669.9" y="334.1"/>
<use href="#st" x="690.3" y="302.9"/>
<use href="#st" x="562.8" y="386.3"/>
<use href="#st" x="759.7" y="309.6"/>
<use href="#st" x="765.2" y="383.8"/>
<use href="#st" x="743.9" y="389.7"/>
<use href="#st" x="1076.2" y="274.0"/>
<use href="#st" x="1173.7" y="276.2"/>
<use href="#st" x="1124.1" y="308.7"/>
<use href="#st" x="1143.3" y="380.8"/>
<use href="#st" x="1186.4" y="269.0"/>
<use href="#st" x="1173.9" y="276.2"/>
<use href="#st" x="1210.6" y="297.9"/>
<use href="#st" x="1187.6" y="313.4"/>
<use href="#st" x="1205.6" y="391.4"/>
<use href="#st" x="564.4" y="433.6"/>
<use href="#st" x="530.6" y="463.1"/>
<use href="#st" x="558.9" y="489.8"/>
<use href="#st" x="609.8" y="481.5"/>
<use href="#st" x="674.1" y="486.1"/>
<use href="#st" x="665.4" y="414.4"/>
<use href="#st" x="836.5" y="480.6"/>
<use href="#st" x="900.4" y="450.6"/>
<use href="#st" x="890.8" y="488.1"/>
<use href="#st" x="884.1" y="504.5"/>
<use href="#st" x="899.6" y="502.8"/>
<use href="#st" x="1067.0" y="398.8"/>
<use href="#st" x="1174.2" y="411.7"/>
<use href="#st" x="1120.8" y="429.2"/>
<use href="#st" x="962.7" y="450.1"/>
<use href="#st" x="981.4" y="472.3"/>
<use href="#st" x="1017.8" y="485.3"/>
<use href="#st" x="1030.1" y="494.5"/>
<use href="#st" x="1064.5" y="483.1"/>
<use href="#st" x="1099.1" y="494.3"/>
<use href="#st" x="978.9" y="498.5"/>
<use href="#st" x="973.9" y="520.7"/>
<use href="#st" x="1186.1" y="400.0"/>
<use href="#st" x="1174.2" y="411.7"/>
<use href="#st" x="577.6" y="528.7"/>
<use href="#st" x="705.0" y="550.7"/>
<use href="#st" x="690.5" y="577.7"/>
<use href="#st" x="734.4" y="537.0"/>
<use href="#st" x="845.7" y="615.0"/>
<use href="#st" x="869.2" y="616.6"/>
<use href="#st" x="902.4" y="593.8"/>
<use href="#st" x="881.9" y="633.3"/>
<use href="#st" x="1002.2" y="580.4"/>
<use href="#st" x="973.9" y="603.8"/>
<use href="#st" x="974.4" y="524.0"/>
</svg>
</body>
</html>
